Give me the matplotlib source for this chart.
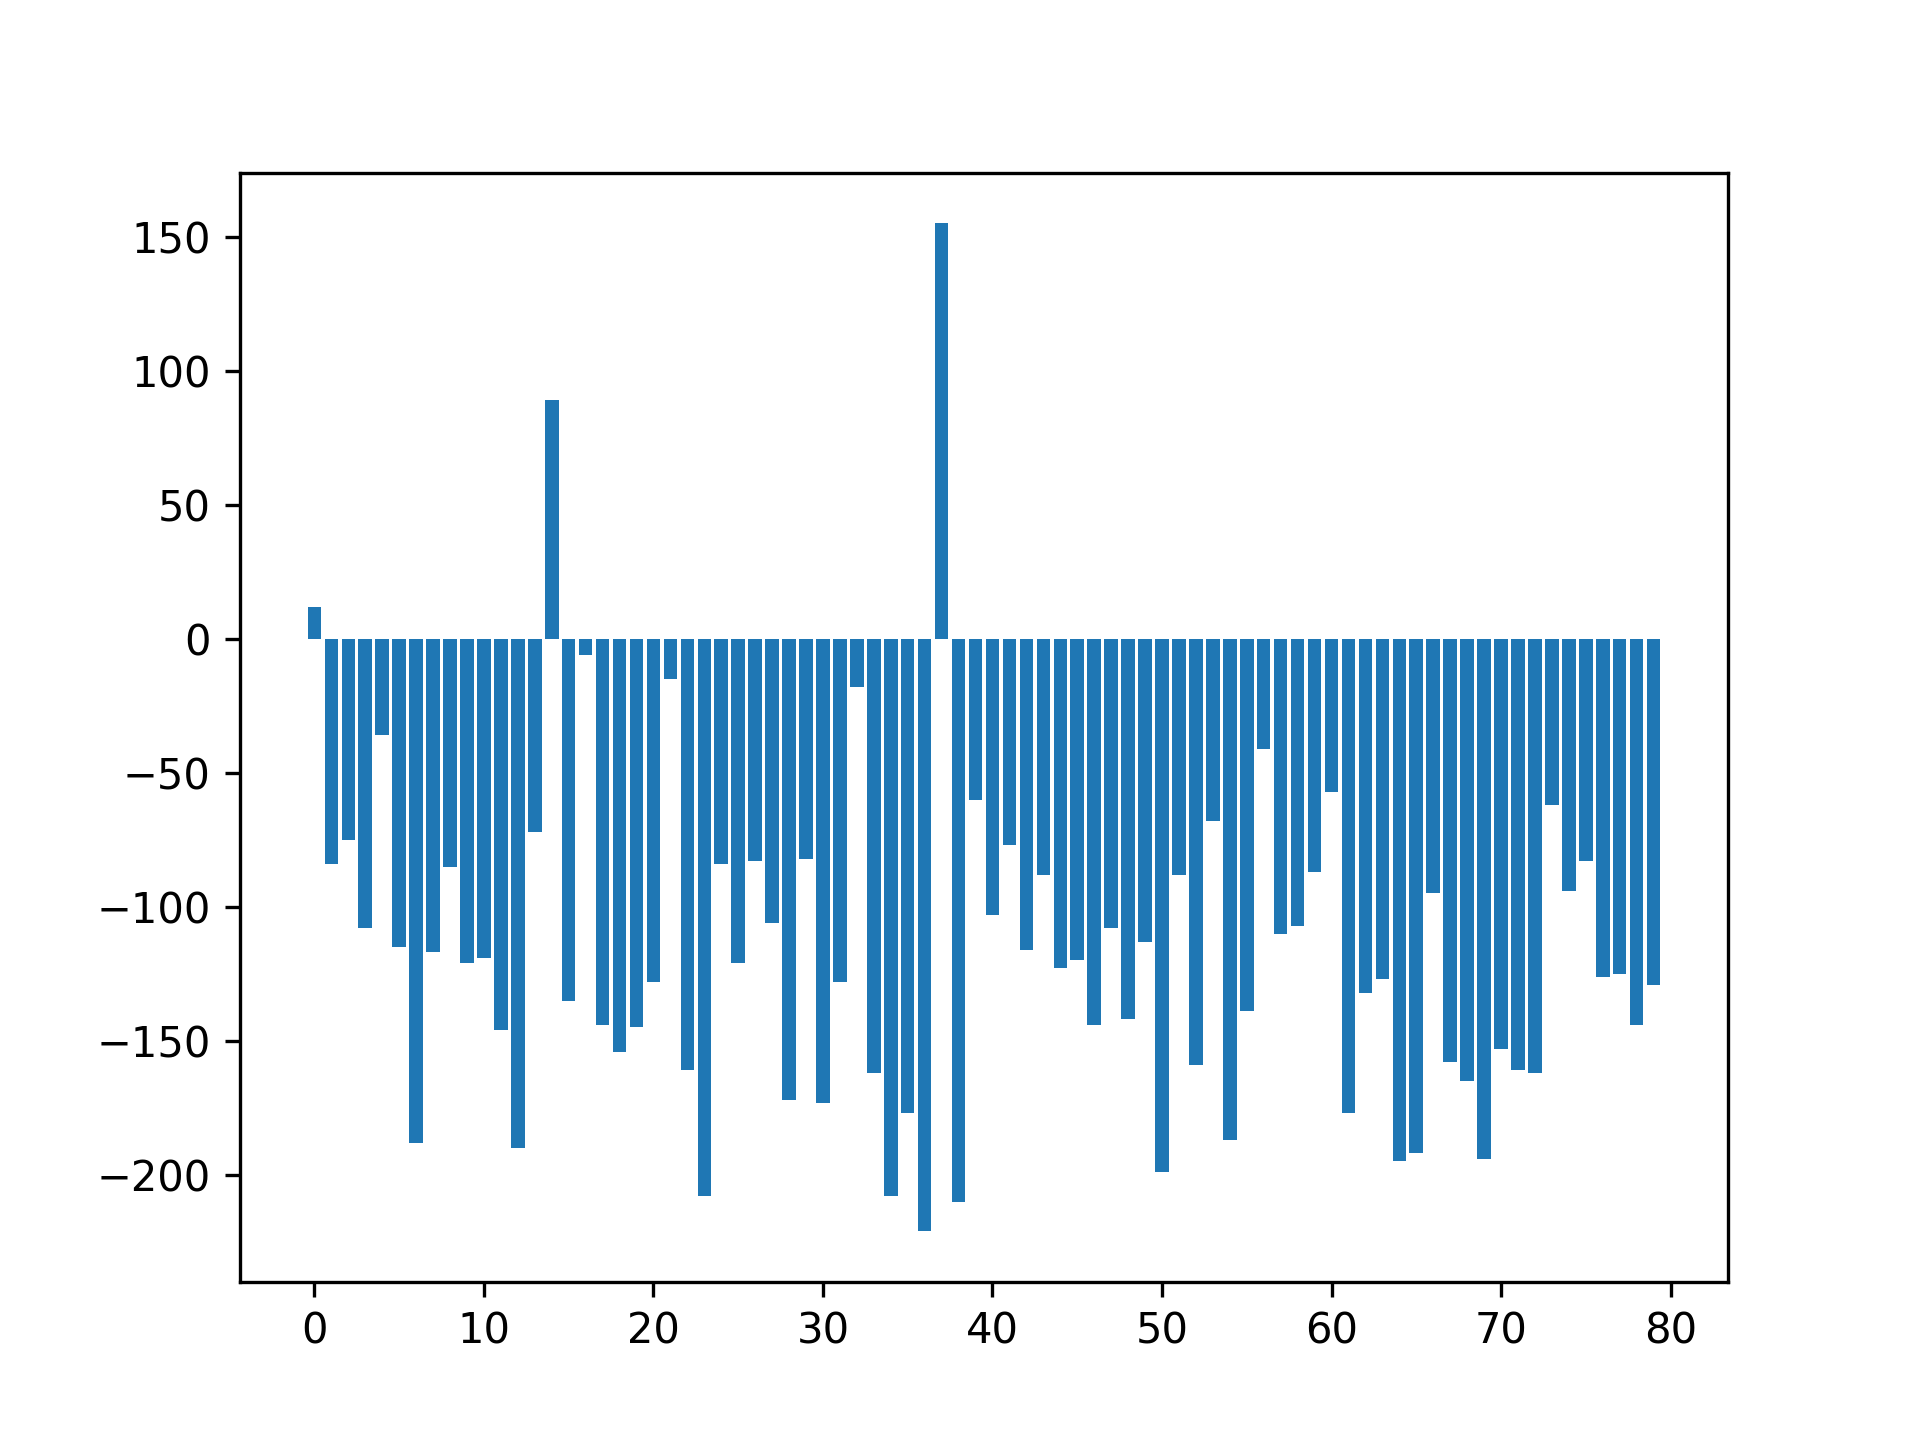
import numpy as np
import matplotlib

matplotlib.use("Agg")
import matplotlib.pyplot as plt

# bar heights (index 0..79)
values = [
    12, -84, -75, -108, -36, -115, -188, -117, -85, -121,
    -119, -146, -190, -72, 89, -135, -6, -144, -154, -145,
    -128, -15, -161, -208, -84, -121, -83, -106, -172, -82,
    -173, -128, -18, -162, -208, -177, -221, 155, -210, -60,
    -103, -77, -116, -88, -123, -120, -144, -108, -142, -113,
    -199, -88, -159, -68, -187, -139, -41, -110, -107, -87,
    -57, -177, -132, -127, -195, -192, -95, -158, -165, -194,
    -153, -161, -162, -62, -94, -83, -126, -125, -144, -129,
]
positions = np.arange(len(values))

fig, ax = plt.subplots(figsize=(6.4, 4.8))
ax.bar(positions, values)
fig.savefig("out.png", dpi=300)
plt.close(fig)
